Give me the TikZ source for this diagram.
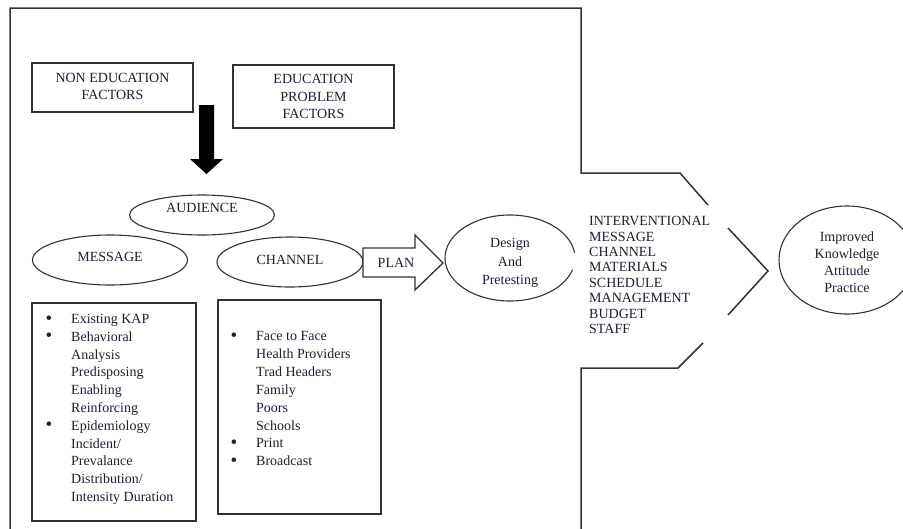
\documentclass[tikz,border=0pt]{standalone}
\usepackage{fontspec}
\setmainfont{Liberation Serif}
\usetikzlibrary{shapes.geometric,calc}
\definecolor{linecol}{RGB}{50,50,50}
\definecolor{textcol}{RGB}{30,30,55}
\newcommand\mybul{\makebox[25.5pt][l]{\raisebox{-0.5pt}{\fontsize{19}{19}\selectfont\textbullet}}}
\newcommand\mynob{\hspace*{25.5pt}}
\begin{document}
\begin{tikzpicture}[x=1pt,y=-1pt,
  every node/.style={text=textcol, font=\fontsize{14}{17.5}\selectfont},
  boxnode/.style={draw=linecol, line width=1.4pt, rectangle, inner sep=0pt},
  ellnode/.style={draw=linecol, line width=1.1pt, ellipse, inner sep=0pt},
  ellline/.style={draw=linecol, line width=1.1pt},
  outline/.style={draw=linecol, line width=1.5pt},
  listnode/.style={inner sep=0pt, anchor=base west}
  ]
\useasboundingbox (0,0) rectangle (903,528);
\clip (0,0) rectangle (903,528);

% outer frame
\draw[outline] (10,530) -- (10,8) -- (581,8) -- (581,173) -- (680,173) -- (708,205);
\draw[outline] (703,343) -- (678,368) -- (581,368) -- (581,530);
\draw[outline] (728,228) -- (768,271) -- (728,315);

% top boxes
\node[boxnode, minimum width=161pt, minimum height=49pt, font=\fontsize{14}{17}\selectfont] (nonedu) at (112.5,87.5)
  {\raisebox{4.9pt}[0pt][0pt]{\begin{tabular}[t]{@{}c@{}}NON EDUCATION\\FACTORS\end{tabular}}};
\node[boxnode, minimum width=161pt, minimum height=63pt, font=\fontsize{14}{17.5}\selectfont] (edu) at (313.5,96.5)
  {\raisebox{12.9pt}[0pt][0pt]{\begin{tabular}[t]{@{}c@{}}EDUCATION\\PROBLEM\\FACTORS\end{tabular}}};

% thick black arrow
\fill[black] (199,105) -- (214,105) -- (214,159) -- (223,159) -- (206.5,174) -- (190,159) -- (199,159) -- cycle;

% ellipses
\node[ellnode, minimum width=145pt, minimum height=40pt] (aud) at (202,215) {\raisebox{2.4pt}[0pt][0pt]{AUDIENCE}};
\node[ellnode, minimum width=155pt, minimum height=50pt] (msg) at (110,260) {\raisebox{-1.6pt}[0pt][0pt]{MESSAGE}};
\node[ellnode, minimum width=146pt, minimum height=50pt] (chan) at (290,262) {\raisebox{-2.6pt}[0pt][0pt]{CHANNEL}};

% PLAN block arrow
\draw[outline, line width=1.3pt, fill=white] (363,248) -- (415,248) -- (415,235) -- (443,263) -- (415,290) -- (415,277) -- (363,277) -- cycle;
\node (plan) at (396,263) {PLAN};

% Design and pretesting ellipse (with small gap on the right)
\node[ellipse, minimum width=130pt, minimum height=86pt, inner sep=0pt, font=\fontsize{14}{18.5}\selectfont] (design) at (510,258)
  {\raisebox{10.5pt}[0pt][0pt]{\begin{tabular}[t]{@{}c@{}}Design\\And\\Pretesting\end{tabular}}};
\draw[ellline] ($(design.center)+(16:65 and 43)$) arc[start angle=16, end angle=353, x radius=65, y radius=43];

% interventional list
\node[listnode, font=\fontsize{14}{15.4}\selectfont] (interv) at (589,225.6)
  {\begin{tabular}[t]{@{}l@{}}INTERVENTIONAL\\MESSAGE\\CHANNEL\\MATERIALS\\SCHEDULE\\MANAGEMENT\\BUDGET\\STAFF\end{tabular}};

% outcome ellipse
\node[ellnode, minimum width=136pt, minimum height=108pt, font=\fontsize{14}{17}\selectfont] (outcome) at (847,260)
  {\raisebox{18.5pt}[0pt][0pt]{\begin{tabular}[t]{@{}c@{}}Improved\\Knowledge\\Attitude\\Practice\end{tabular}}};

% list boxes
\node[boxnode, minimum width=164pt, minimum height=218pt] (msgbox) at (114,412) {};
\node[boxnode, minimum width=163pt, minimum height=214pt] (chanbox) at (299.5,407) {};

\node[listnode, font=\fontsize{14}{17.8}\selectfont] (msglist) at (45.5,323.5)
  {\begin{tabular}[t]{@{}l@{}}
  \mybul Existing KAP\\
  \mybul Behavioral\\
  \mynob Analysis\\
  \mynob Predisposing\\
  \mynob Enabling\\
  \mynob Reinforcing\\
  \mybul Epidemiology\\
  \mynob Incident/\\
  \mynob Prevalance\\
  \mynob Distribution/\\
  \mynob Intensity Duration
  \end{tabular}};

\node[listnode, font=\fontsize{14}{17.9}\selectfont] (chanlist) at (230.5,340.5)
  {\begin{tabular}[t]{@{}l@{}}
  \mybul Face to Face\\
  \mynob Health Providers\\
  \mynob Trad Headers\\
  \mynob Family\\
  \mynob Poors\\
  \mynob Schools\\
  \mybul Print\\
  \mybul Broadcast
  \end{tabular}};
\end{tikzpicture}
\end{document}
